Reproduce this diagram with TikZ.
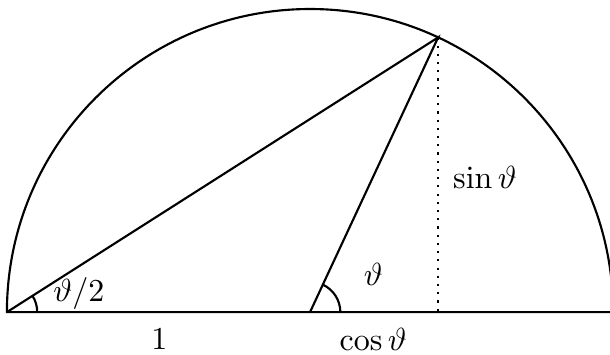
\documentclass[tikz,border=0pt]{standalone}
\usepackage{amsmath}
\usepackage{amsfonts}
\usetikzlibrary{arrows,calc}

\begin{document}
\begin{tikzpicture}[line width=0.7pt]
			\useasboundingbox (-3.58,-0.486) rectangle (3.464,3.604);
			\coordinate (O) at (0,0);
			\coordinate (A) at (-3.5,0);
			\coordinate (B) at (3.5,0);
			\coordinate (P) at (65:3.5);
			\coordinate (F) at (P|-O);
			\draw (B) arc (0:180:3.5) -- (B);
			\draw (A) -- (P) -- (O);
			\draw[dotted] (P) -- (F);
			\draw ($(A)+(0.35,0)$) arc (0:32.5:0.35);
			\draw ($(O)+(0.35,0)$) arc (0:65:0.35);
			\node[scale=1.05] (half) at (-2.67,0.22) {$\vartheta/2$};
			\node[scale=1.05] (theta) at (0.73,0.44) {$\vartheta$};
			\node[scale=1.05] (sin) at (2.02,1.56) {$\sin\vartheta$};
			\node[scale=1.05] (one) at (-1.74,-0.31) {$1$};
			\node[scale=1.05] (cos) at (0.73,-0.31) {$\cos\vartheta$};
		\end{tikzpicture}
\end{document}
